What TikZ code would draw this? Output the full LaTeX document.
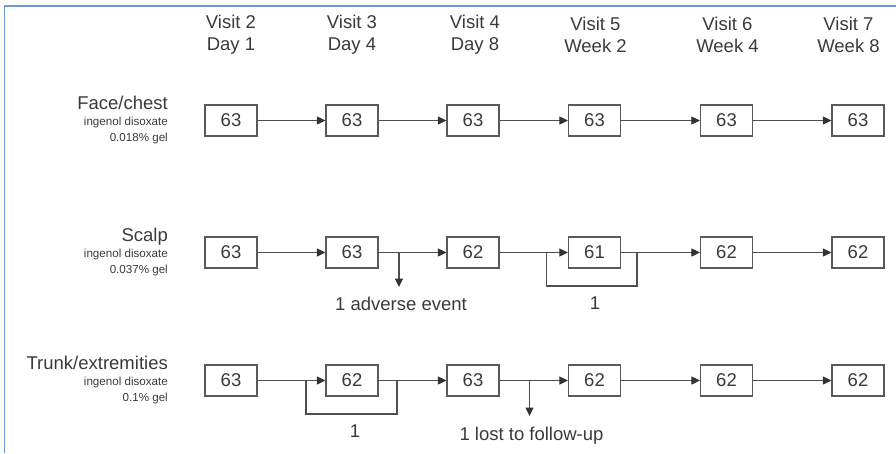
\documentclass[tikz,border=0pt]{standalone}
\usepackage{fontspec}
\setmainfont{Liberation Sans}
\usetikzlibrary{arrows.meta}
\definecolor{txt}{HTML}{3A3A3A}
\definecolor{ln}{HTML}{4F4F4F}
\definecolor{boxln}{HTML}{5A5A5A}
\definecolor{tip}{HTML}{333333}
\definecolor{frame}{HTML}{6A9AD8}
\tikzset{
  box/.style={draw=boxln, line width=1.2pt, minimum width=52pt, minimum height=31pt, inner sep=0pt, text=txt, font=\fontsize{18.5}{20}\selectfont},
  hdr/.style={text=txt, font=\fontsize{18.5}{22}\selectfont, align=center, inner sep=0pt},
  big/.style={text=txt, font=\fontsize{18.5}{20}\selectfont, anchor=base east, inner sep=0pt},
  small/.style={text=txt, font=\fontsize{11.6}{13}\selectfont, anchor=base east, inner sep=0pt},
  note/.style={text=txt, font=\fontsize{18.5}{20}\selectfont, inner sep=0pt},
  flow/.style={draw=ln, line width=1.1pt, -{Triangle[length=8.5pt,width=8pt,color=tip]}},
  plain/.style={draw=ln, line width=1.1pt},
}
\begin{document}
\begin{tikzpicture}[x=1pt,y=-1pt]
\useasboundingbox (0,0) rectangle (896,453);
% frame
\draw[frame, line width=1.5pt] (4.5,453) -- (4.5,6) -- (896,6);
% headers
\node[hdr] (h2) at (231,35) {Visit 2\\Day 1};
\node[hdr] (h3) at (352,35) {Visit 3\\Day 4};
\node[hdr] (h4) at (475,35) {Visit 4\\Day 8};
\node[hdr] (h5) at (595.5,35) {Visit 5\\Week 2};
\node[hdr] (h6) at (727.5,35) {Visit 6\\Week 4};
\node[hdr] (h7) at (848.5,35) {Visit 7\\Week 8};
% left labels
\node[big] (l1) at (168,109.5) {Face/chest};
\node[small] (l1a) at (168,125) {ingenol disoxate};
\node[small] (l1b) at (168,141) {0.018\% gel};
\node[big] (l2) at (168,241.5) {Scalp};
\node[small] (l2a) at (168,257) {ingenol disoxate};
\node[small] (l2b) at (168,273) {0.037\% gel};
\node[big] (l3) at (168,369.5) {Trunk/extremities};
\node[small] (l3a) at (168,385) {ingenol disoxate};
\node[small] (l3b) at (168,401) {0.1\% gel};
% row 1
\node[box] (a1) at (231,120.5) {63};
\node[box] (a2) at (352,120.5) {63};
\node[box] (a3) at (473,120.5) {63};
\node[box] (a4) at (594.5,120.5) {63};
\node[box] (a5) at (726.5,120.5) {63};
\node[box] (a6) at (858,120.5) {63};
\foreach \i/\j in {a1/a2,a2/a3,a3/a4,a4/a5,a5/a6} \draw[flow] (\i) -- (\j);
% row 2
\node[box] (b1) at (231,252.5) {63};
\node[box] (b2) at (352,252.5) {63};
\node[box] (b3) at (473,252.5) {62};
\node[box] (b4) at (594.5,252.5) {61};
\node[box] (b5) at (726.5,252.5) {62};
\node[box] (b6) at (858,252.5) {62};
\foreach \i/\j in {b1/b2,b2/b3,b3/b4,b4/b5,b5/b6} \draw[flow] (\i) -- (\j);
\coordinate (bj) at (399,252.5);
\coordinate (bjt) at (399,287);
\draw[flow] (bj) -- (bjt);
\node[note, anchor=base] (bae) at (401,310) {1 adverse event};
\coordinate (bl) at (546.5,252.5);
\coordinate (br) at (637,252.5);
\draw[plain] (bl) -- (546.5,286) -- (637,286) -- (br);
\node[note, anchor=base] (bone) at (595,309) {1};
% row 3
\node[box] (c1) at (231,380.5) {63};
\node[box] (c2) at (352,380.5) {62};
\node[box] (c3) at (473,380.5) {63};
\node[box] (c4) at (594.5,380.5) {62};
\node[box] (c5) at (726.5,380.5) {62};
\node[box] (c6) at (858,380.5) {62};
\foreach \i/\j in {c1/c2,c2/c3,c3/c4,c4/c5,c5/c6} \draw[flow] (\i) -- (\j);
\coordinate (cl) at (306,380.5);
\coordinate (cr) at (397,380.5);
\draw[plain] (cl) -- (306,414) -- (397,414) -- (cr);
\node[note, anchor=base] (cone) at (355,437) {1};
\coordinate (cj) at (529.5,380.5);
\coordinate (cjt) at (529.5,416);
\draw[flow] (cj) -- (cjt);
\node[note, anchor=base] (clost) at (531.5,440) {1 lost to follow-up};
\end{tikzpicture}
\end{document}
